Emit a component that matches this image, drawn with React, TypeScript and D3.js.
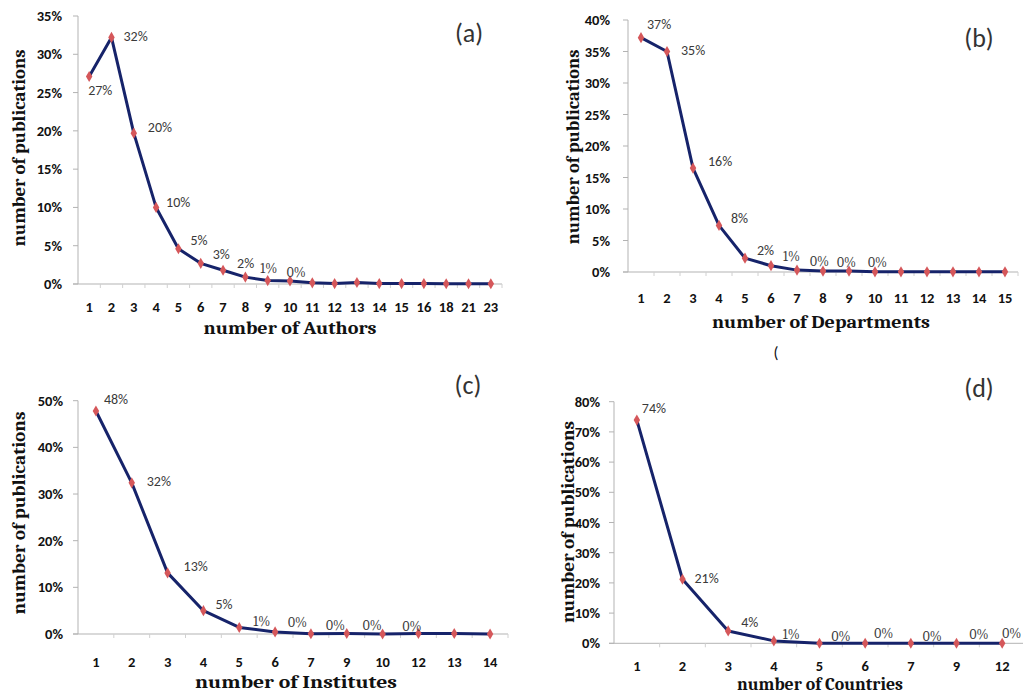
import React from "react";
import * as d3 from "d3";

// ---------- data ----------
const authorsCats = ["1","2","3","4","5","6","7","8","9","10","11","12","13","14","15","16","18","21","23"];
const authorsShare = [27.1, 32.2, 19.7, 10.0, 4.6, 2.7, 1.8, 0.9, 0.45, 0.4, 0.15, 0.05, 0.2, 0.05, 0.05, 0.05, 0.03, 0.03, 0.03];
const authorsLabels = ["27%","32%","20%","10%","5%","3%","2%","1%","0%"];

const deptCats = ["1","2","3","4","5","6","7","8","9","10","11","12","13","14","15"];
const deptShare = [37.2, 35.0, 16.5, 7.4, 2.2, 1.0, 0.3, 0.15, 0.15, 0.02, 0.02, 0.02, 0.02, 0.02, 0.02];
const deptLabels = ["37%","35%","16%","8%","2%","1%","0%","0%","0%"];

const instCats = ["1","2","3","4","5","6","7","9","10","12","13","14"];
const instShare = [47.8, 32.4, 13.1, 5.0, 1.4, 0.45, 0.05, 0.1, 0.0, 0.1, 0.1, 0.0];
const instLabels = ["48%","32%","13%","5%","1%","0%","0%","0%","0%"];

const countryCats = ["1","2","3","4","5","6","7","9","12"];
const countryShare = [73.9, 21.2, 4.1, 0.8, 0.02, 0.02, 0.02, 0.02, 0.02];
const countryLabels = ["74%","21%","4%","1%","0%","0%","0%","0%","0%"];

// ---------- layout (label placement offsets relative to point) ----------
const offA = [[-1,14],[12,-1],[14,-6],[10,-5],[12,-8],[12,-9],[14,-7],[15,-9],[19,-8]];
const offB = [[6,-13],[14,-1],[15,-7],[12,-7],[12,-8],[12,-9],[13,-9],[14,-9],[19,-9]];
const offC = [[8,-11],[15,-1],[16,-6],[12,-6],[14,-6],[13,-9],[15,-8],[16,-8],[20,-8]];
const offD = [[5,-12],[12,-1],[13,-8],[9,-6],[12,-7],[9,-10],[12,-7],[13,-9],[0,-10]];

const SANS = "Carlito, Calibri, 'Liberation Sans', Arial, sans-serif";
const SERIF = "Caladea, Cambria, 'Liberation Serif', 'Times New Roman', serif";

type Cfg = {
  x0: number; x1: number; yTop: number; yBottom: number; yMax: number; yStep: number;
  tickRight: number; xTickBase: number;
  xTitle: string; xTitleX: number; xTitleBase: number; xTitleLen: number;
  yTitleBaseX: number; yTitleCY: number; yTitleLen: number;
  tag: string; tagX: number; tagBase: number;
};

function Panel({ cats, values, labels, offsets, cfg }: { cats: string[]; values: number[]; labels: string[]; offsets: number[][]; cfg: Cfg }) {
  const x = d3.scaleBand<string>().domain(cats).range([cfg.x0, cfg.x1]).padding(0);
  const y = d3.scaleLinear().domain([0, cfg.yMax]).range([cfg.yBottom, cfg.yTop]);
  const cx = (c: string) => (x(c) as number) + x.bandwidth() / 2;
  const line = d3
    .line<number>()
    .x((_, i) => cx(cats[i]))
    .y((v) => y(v))
    .curve(d3.curveLinear);
  const ticks = d3.range(0, cfg.yMax + 0.001, cfg.yStep);
  const marker = d3.symbol().type(d3.symbolDiamond).size(36)() as string;
  const axisColor = "#b3b3b3";
  return (
    <g>
      {/* y axis */}
      <line x1={cfg.x0} x2={cfg.x0} y1={cfg.yTop} y2={cfg.yBottom} stroke={axisColor} strokeWidth={1} />
      {ticks.map((t) => (
        <g key={t}>
          <line x1={cfg.x0 - 5} x2={cfg.x0} y1={y(t)} y2={y(t)} stroke={axisColor} strokeWidth={1} />
          <text x={cfg.tickRight} y={y(t) + 5} textAnchor="end" fontFamily={SANS} fontWeight="bold" fontSize={14.5} fill="#111">
            {`${t}%`}
          </text>
        </g>
      ))}
      {/* x axis */}
      <line x1={cfg.x0 - 5} x2={cfg.x1} y1={cfg.yBottom} y2={cfg.yBottom} stroke={axisColor} strokeWidth={1} />
      {cats.map((c) => (
        <g key={c}>
          <line x1={(x(c) as number) + x.bandwidth()} x2={(x(c) as number) + x.bandwidth()} y1={cfg.yBottom} y2={cfg.yBottom + 4} stroke="#d0d0d0" strokeWidth={1} />
          <text x={cx(c)} y={cfg.xTickBase} textAnchor="middle" fontFamily={SANS} fontWeight="bold" fontSize={14.5} fill="#111">
            {c}
          </text>
        </g>
      ))}
      {/* series */}
      <path d={line(values) as string} fill="none" stroke="#16236a" strokeWidth={3} strokeLinejoin="round" />
      {values.map((v, i) => (
        <path key={i} d={marker} transform={`translate(${cx(cats[i])},${y(v)})`} fill="#d5575a" />
      ))}
      {labels.map((l, i) => {
        const small = l === "0%" || l === "1%";
        return (
          <text
            key={i}
            x={cx(cats[i]) + offsets[i][0]}
            y={y(values[i]) + offsets[i][1] + 4.5}
            fontFamily={small ? SERIF : SANS}
            fontSize={small ? 13.5 : 14}
            fill="#3a3a3a"
          >
            {l}
          </text>
        );
      })}
      {/* titles */}
      <text x={cfg.xTitleX} y={cfg.xTitleBase} textAnchor="middle" fontFamily={SERIF} fontWeight="bold" fontSize={18} fill="#111" textLength={cfg.xTitleLen} lengthAdjust="spacingAndGlyphs">
        {cfg.xTitle}
      </text>
      <text
        transform={`translate(${cfg.yTitleBaseX},${cfg.yTitleCY}) rotate(-90)`}
        textAnchor="middle"
        fontFamily={SERIF}
        fontWeight="bold"
        fontSize={18}
        fill="#111"
        textLength={cfg.yTitleLen}
        lengthAdjust="spacingAndGlyphs"
      >
        number of publications
      </text>
      <text x={cfg.tagX} y={cfg.tagBase} textAnchor="middle" fontFamily={SANS} fontSize={26} fill="#333">
        {cfg.tag}
      </text>
    </g>
  );
}

const cfgA: Cfg = { x0: 78, x1: 502, yTop: 16, yBottom: 284, yMax: 35, yStep: 5, tickRight: 62, xTickBase: 312,
  xTitle: "number of Authors", xTitleX: 290, xTitleBase: 334, xTitleLen: 173,
  yTitleBaseX: 25, yTitleCY: 148, yTitleLen: 197, tag: "(a)", tagX: 469, tagBase: 42 };
const cfgB: Cfg = { x0: 628, x1: 1018, yTop: 20, yBottom: 272, yMax: 40, yStep: 5, tickRight: 610, xTickBase: 303,
  xTitle: "number of Departments", xTitleX: 821, xTitleBase: 328, xTitleLen: 218,
  yTitleBaseX: 579, yTitleCY: 147, yTitleLen: 195, tag: "(b)", tagX: 979, tagBase: 47 };
const cfgC: Cfg = { x0: 78, x1: 508, yTop: 400.7, yBottom: 634, yMax: 50, yStep: 10, tickRight: 63, xTickBase: 667,
  xTitle: "number of Institutes", xTitleX: 296, xTitleBase: 688, xTitleLen: 202,
  yTitleBaseX: 25, yTitleCY: 513, yTitleLen: 203, tag: "(c)", tagX: 468, tagBase: 394 };
const cfgD: Cfg = { x0: 614, x1: 1025, yTop: 401.7, yBottom: 643.3, yMax: 80, yStep: 10, tickRight: 600, xTickBase: 671,
  xTitle: "number of Countries", xTitleX: 820, xTitleBase: 690, xTitleLen: 166,
  yTitleBaseX: 574, yTitleCY: 522, yTitleLen: 202, tag: "(d)", tagX: 979, tagBase: 397 };

export default function App() {
  return (
    <svg
      width={1023}
      height={696}
      viewBox="0 0 1023 696"
      style={{ position: "absolute", left: 0, top: 0, background: "#fff" }}
    >
      <rect x={0} y={0} width={1023} height={696} fill="#fff" />
      <Panel cats={authorsCats} values={authorsShare} labels={authorsLabels} offsets={offA} cfg={cfgA} />
      <Panel cats={deptCats} values={deptShare} labels={deptLabels} offsets={offB} cfg={cfgB} />
      <Panel cats={instCats} values={instShare} labels={instLabels} offsets={offC} cfg={cfgC} />
      <Panel cats={countryCats} values={countryShare} labels={countryLabels} offsets={offD} cfg={cfgD} />
      <text x={776} y={358} textAnchor="middle" fontFamily={SANS} fontSize={16} fill="#111">(</text>
    </svg>
  );
}
